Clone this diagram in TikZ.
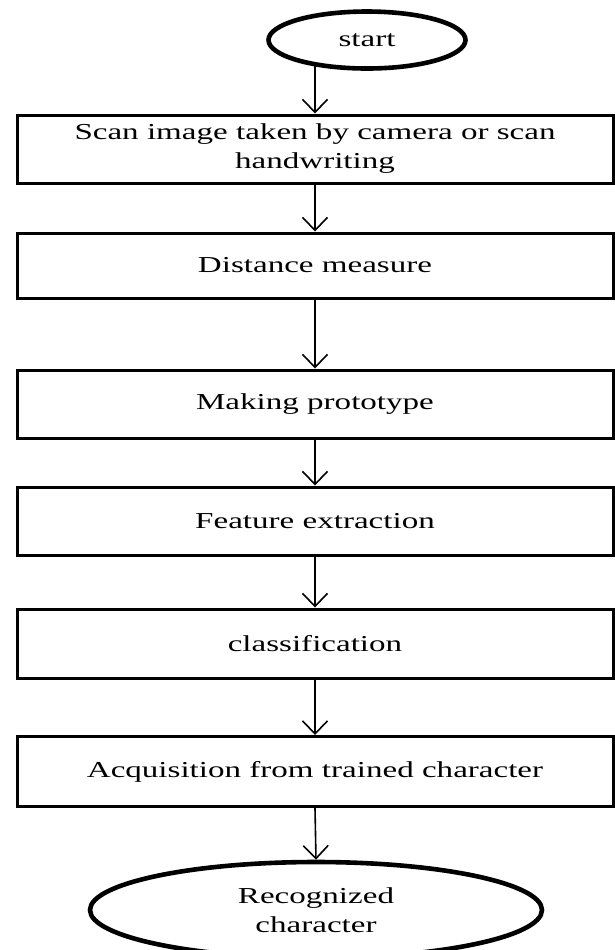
\documentclass[tikz,border=0pt]{standalone}
\usepackage{fontspec}
\setmainfont{Liberation Serif}[FakeStretch=1.45]
\usetikzlibrary{shapes.geometric,arrows.meta}
\tikzstyle{FCbox}=[draw, line width=1.5pt, minimum width=298pt, inner sep=0pt, align=center, font=\fontsize{11.4}{14.5}\selectfont]
\tikzstyle{FCterm}=[draw, ellipse, line width=2.3pt, inner sep=0pt, align=center, font=\fontsize{11.4}{14.5}\selectfont]
\tikzstyle{FCarrow}=[-{Straight Barb[length=6.5pt,width=12.5pt]}, line width=0.8pt]

\begin{document}
\begin{tikzpicture}[x=0.5pt, y=-0.5pt]
    \path [use as bounding box] (0,0) rectangle (615,950);
    % terminals
    \node [FCterm, minimum width=98.5pt, minimum height=28.5pt] (start) at (367,40) {start};
    \node [FCterm, minimum width=226pt, minimum height=48pt] (stop) at (316,910) {Recognized\\character};
    % process steps
    \node [FCbox, minimum height=34pt] (scan) at (315,149) {Scan image taken by camera or scan\\handwriting};
    \node [FCbox, minimum height=32.5pt] (dist) at (315,265.5) {Distance measure};
    \node [FCbox, minimum height=34pt] (proto) at (315,404) {Making prototype};
    \node [FCbox, minimum height=34pt] (feat) at (315,521) {Feature extraction};
    \node [FCbox, minimum height=34.5pt] (class) at (315,643.5) {classification};
    \node [FCbox, minimum height=35pt] (acq) at (315,771.5) {Acquisition from trained character};
    % connectors
    \draw [FCarrow] ([yshift=2.5pt]start.south -| scan.north) -- (scan.north);
    \draw [FCarrow] (scan.south) -- (dist.north);
    \draw [FCarrow] (dist.south) -- (proto.north);
    \draw [FCarrow] (proto.south) -- (feat.north);
    \draw [FCarrow] (feat.south) -- (class.north);
    \draw [FCarrow] (class.south) -- (acq.north);
    \draw [FCarrow] (acq.south) -- (stop.north);
\end{tikzpicture}
\end{document}
